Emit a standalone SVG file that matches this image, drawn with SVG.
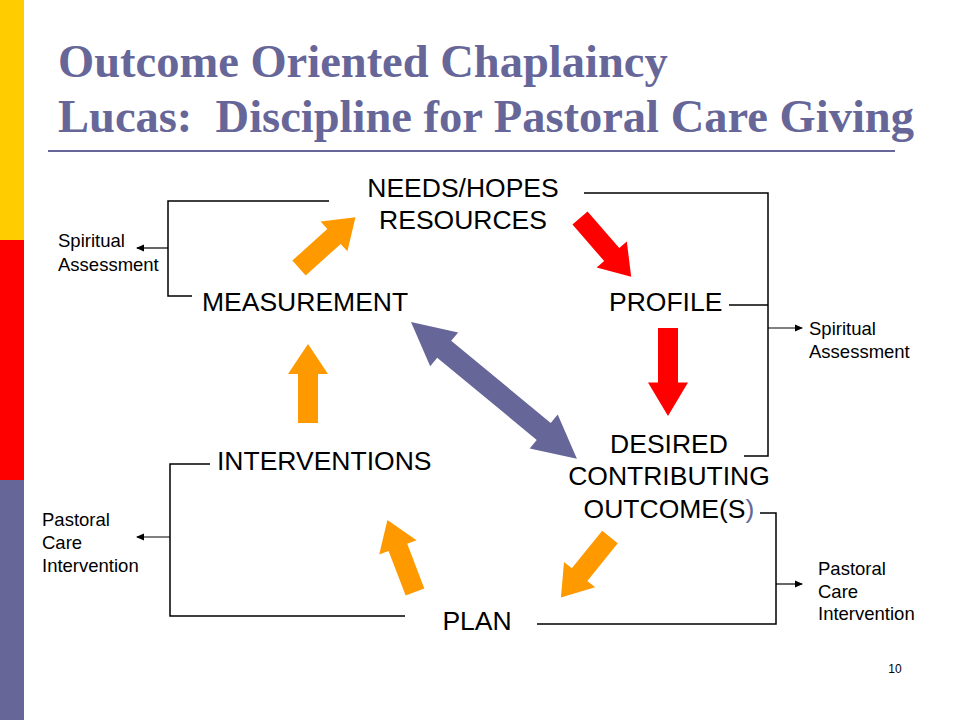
<svg xmlns="http://www.w3.org/2000/svg" width="960" height="720" viewBox="0 0 960 720">
<style>
.t{font-family:"Liberation Serif",serif;font-weight:bold;font-size:46.5px;fill:#666699}
.m{font-family:"Liberation Sans",Arial,sans-serif;font-size:26.5px;fill:#000}
.s{font-family:"Liberation Sans",Arial,sans-serif;font-size:18.5px;fill:#000}
.ln{fill:none;stroke:#000;stroke-width:1.5}
.al{fill:none;stroke:#000;stroke-width:1.2;marker-end:url(#ah)}
</style>
<defs>
<marker id="ah" markerWidth="8" markerHeight="8" refX="7" refY="4" orient="auto" markerUnits="userSpaceOnUse"><path d="M0,0.5 L8,4 L0,7.5 Z" fill="#000"/></marker>
<path id="ba" d="M0,-10 L62,-10 L62,-20 L100,0 L62,20 L62,10 L0,10 Z"/>
<path id="da" d="M0,0 L20,-22 L20,-11 L80,-11 L80,-22 L100,0 L80,22 L80,11 L20,11 L20,22 Z"/>
</defs>
<rect width="960" height="720" fill="#fff"/>
<rect x="0" y="0" width="24" height="240" fill="#ffcc00"/>
<rect x="0" y="240" width="24" height="240" fill="#ff0000"/>
<rect x="0" y="480" width="24" height="240" fill="#666699"/>
<text class="t" x="58" y="77">Outcome Oriented Chaplaincy</text>
<text class="t" x="58" y="132" xml:space="preserve">Lucas:  Discipline for Pastoral Care Giving</text>
<line x1="48" y1="151" x2="895" y2="151" stroke="#666699" stroke-width="2"/>
<g id="connectors">
<polyline class="ln" points="329,201 168,201 168,296 192,296"/>
<line class="al" x1="168" y1="248" x2="137" y2="248"/>
<polyline class="ln" points="584,193 768,193 768,456 744,456"/>
<line class="ln" x1="729" y1="305" x2="768" y2="305"/>
<line class="al" x1="768" y1="328" x2="802" y2="328"/>
<polyline class="ln" points="760,513 776,513 776,624 537,624"/>
<line class="al" x1="776" y1="584" x2="802" y2="584"/>
<polyline class="ln" points="210,464 170,464 170,616 405,616"/>
<line class="al" x1="170" y1="537" x2="137" y2="537"/>
<use href="#ba" fill="#ff9900" transform="translate(299,268) rotate(-42) scale(0.76,1)"/>
<use href="#ba" fill="#ff0000" transform="translate(580,218) rotate(49) scale(0.78,1)"/>
<use href="#ba" fill="#ff0000" transform="translate(668,328) rotate(90) scale(0.88,1)"/>
<use href="#da" fill="#666699" transform="translate(411,322) rotate(39.5) scale(2.15,1)"/>
<use href="#ba" fill="#ff9900" transform="translate(610,537) rotate(129) scale(0.78,1)"/>
<use href="#ba" fill="#ff9900" transform="translate(415,592) rotate(-111) scale(0.77,1)"/>
<use href="#ba" fill="#ff9900" transform="translate(308,423) rotate(-90) scale(0.79,1)"/>
</g>
<g id="needs"><text class="m" x="463" y="197" text-anchor="middle">NEEDS/HOPES</text><text class="m" x="463" y="229" text-anchor="middle">RESOURCES</text></g>
<g id="measurement"><text class="m" x="202" y="311">MEASUREMENT</text></g>
<g id="profile"><text class="m" x="609" y="311">PROFILE</text></g>
<g id="desired"><text class="m" x="669" y="453" text-anchor="middle">DESIRED</text><text class="m" x="669" y="485" text-anchor="middle">CONTRIBUTING</text><text class="m" x="669" y="518" text-anchor="middle">OUTCOME(S<tspan fill="#666699">)</tspan></text></g>
<g id="interventions"><text class="m" x="217" y="470">INTERVENTIONS</text></g>
<g id="plan"><text class="m" x="477" y="630" text-anchor="middle">PLAN</text></g>
<g id="sa-left"><text class="s" x="58" y="247">Spiritual</text><text class="s" x="58" y="271">Assessment</text></g>
<g id="sa-right"><text class="s" x="809" y="335">Spiritual</text><text class="s" x="809" y="358">Assessment</text></g>
<g id="pci-left"><text class="s" x="42" y="526">Pastoral</text><text class="s" x="42" y="549">Care</text><text class="s" x="42" y="572">Intervention</text></g>
<g id="pci-right"><text class="s" x="818" y="575">Pastoral</text><text class="s" x="818" y="598">Care</text><text class="s" x="818" y="620">Intervention</text></g>
<text x="895" y="673" font-family="Liberation Sans,Arial,sans-serif" font-size="12" text-anchor="middle">10</text>
</svg>
